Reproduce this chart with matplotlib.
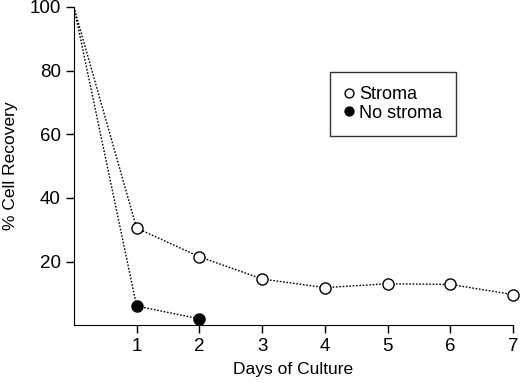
import matplotlib.pyplot as plt

plt.rcParams['font.family'] = ['Liberation Sans', 'DejaVu Sans']

days = [0, 1, 2, 3, 4, 5, 6, 7]
stroma = [100, 30.5, 21.5, 14.5, 11.8, 13.0, 12.8, 9.6]
days_no = [0, 1, 2]
no_stroma = [100, 6.0, 2.0]

x_ticks = [1, 2, 3, 4, 5, 6, 7]
y_ticks = [20, 40, 60, 80, 100]

fig = plt.figure(figsize=(5.2, 3.83), dpi=100)
ax = fig.add_axes([0.142, 0.151, 0.845, 0.831])

# lines first, markers only at measured days
ax.plot(days, stroma, color='black', ls=(0, (1.2, 1.2)), lw=1)
ax.plot(days_no, no_stroma, color='black', ls=(0, (1.2, 1.2)), lw=1)
ax.plot(days[1:], stroma[1:], ls='none', marker='o', ms=8,
        mfc='white', mec='black', mew=1, label='Stroma', clip_on=False)
ax.plot(days_no[1:], no_stroma[1:], ls='none', marker='o', ms=8,
        mfc='black', mec='black', label='No stroma', clip_on=False, zorder=5)

ax.set_xlim(0, 7)
ax.set_ylim(0, 100)
ax.set_xticks(x_ticks)
ax.set_yticks(y_ticks)
ax.spines['top'].set_visible(False)
ax.spines['right'].set_visible(False)
ax.tick_params(direction='out', length=6, width=1, labelsize=13.5)
ax.set_xlabel('Days of Culture', fontsize=12.5, labelpad=5)
ax.set_ylabel('% Cell Recovery', fontsize=12.5, labelpad=8)

leg = ax.legend(loc='upper left', bbox_to_anchor=(0.583, 0.796), fontsize=13,
                frameon=True, fancybox=False, edgecolor='black',
                handlelength=0.5, handletextpad=0.3, markerscale=0.8,
                borderpad=0.8, labelspacing=0.08, borderaxespad=0)
leg.get_frame().set_linewidth(1)

fig.savefig('out.png', dpi=100)
